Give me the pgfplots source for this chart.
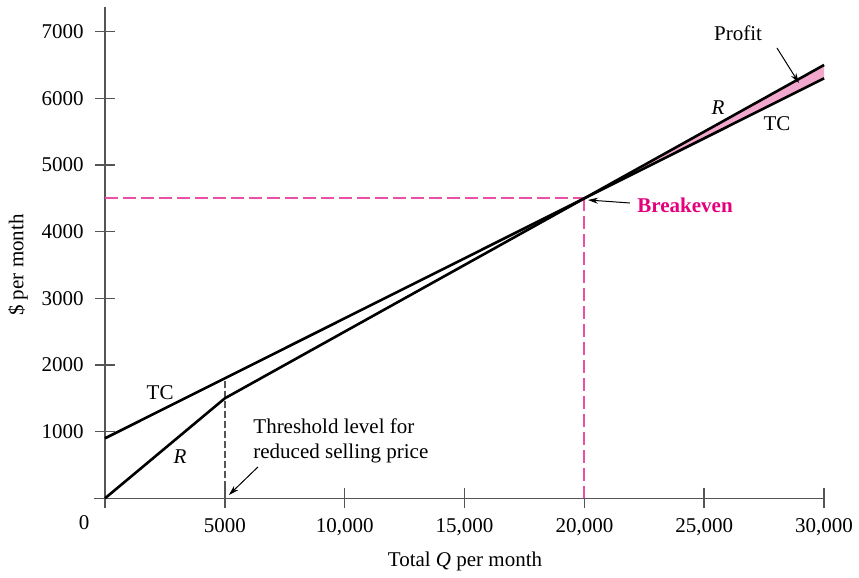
\documentclass[border=0pt]{standalone}
\usepackage{fontspec}
\setmainfont{Liberation Serif}
\usepackage{pgfplots}
\pgfplotsset{compat=1.18}
\usetikzlibrary{arrows.meta}

\definecolor{magtext}{RGB}{228,0,125}
\definecolor{magline}{RGB}{236,80,165}
\definecolor{profitfill}{RGB}{242,168,204}
\definecolor{axisgrey}{RGB}{85,85,85}

\begin{document}
\begin{tikzpicture}[font=\fontsize{10.5}{12.6}\selectfont]
\begin{axis}[
  scale only axis,
  width=365pt, height=250.5pt,
  xmin=-460, xmax=30000,
  ymin=-150, ymax=7366,
  axis lines=middle,
  axis line style={axisgrey, line width=0.75pt, -},
  clip=false,
  scaled ticks=false,
  xtick={5000,10000,15000,20000,25000,30000},
  xticklabels={5000,{10,000},{15,000},{20,000},{25,000},{30,000}},
  ytick={1000,2000,3000,4000,5000,6000,7000},
  yticklabels={1000,2000,3000,4000,5000,6000,7000},
  tick align=center,
  major tick length=10pt,
  tick style={axisgrey, line width=0.75pt},
  xticklabel style={anchor=base, inner sep=0pt, yshift=-12pt},
  yticklabel style={anchor=east, inner sep=0pt, xshift=-5.5pt},
]
% bounding box of the whole picture (859 x 569 px)
\path (axis cs:-4381,7475) rectangle (axis cs:31457,-1061);

% profit area
\addplot[draw=none, fill=profitfill] coordinates {(20000,4500) (30000,6500) (30000,6300)} -- cycle;

% breakeven guides
\addplot[magline, line width=1pt, dash pattern=on 6.5pt off 2.5pt] coordinates {(0,4500) (20000,4500)};
\addplot[magline, line width=1pt, dash pattern=on 6.5pt off 2.5pt] coordinates {(20000,4500) (20000,0)};

% threshold guide
\addplot[axisgrey, line width=0.75pt, dash pattern=on 3.5pt off 1.5pt] coordinates {(5000,0) (5000,1800)};

% total cost
\addplot[black, line width=1.3pt] coordinates {(0,900) (5000,1800) (20000,4500) (30000,6300)};
% revenue
\addplot[black, line width=1.3pt] coordinates {(0,0) (5000,1500) (20000,4500) (30000,6500)};

% labels
\node at (axis cs:2300,1580) {TC};
\node at (axis cs:3130,620) {\itshape R};
\node[anchor=west, align=left, inner sep=0pt] at (axis cs:6175,860) {Threshold level for\\reduced selling price};
\draw[-{Stealth[length=5pt,width=3pt]}, line width=0.5pt] (axis cs:6380,470) -- (axis cs:5170,50);

\node at (axis cs:26410,6980) {Profit};
\draw[-{Stealth[length=5pt,width=3pt]}, line width=0.5pt] (axis cs:28035,6755) -- (axis cs:28950,6230);
\node at (axis cs:25575,5855) {\itshape R};
\node at (axis cs:28035,5615) {TC};

\node[anchor=west, inner sep=0pt, text=magtext, font=\fontsize{10.5}{12.6}\selectfont\bfseries] at (axis cs:22195,4400) {Breakeven};
\draw[-{Stealth[length=5pt,width=3pt]}, line width=0.5pt] (axis cs:21900,4430) -- (axis cs:20150,4475);

\node at (axis cs:-876,-370) {0};
\node at (axis cs:15020,-940) {Total \textit{Q} per month};
\node[rotate=90] at (axis cs:-3630,3500) {\$ per month};
\end{axis}
\end{tikzpicture}
\end{document}
